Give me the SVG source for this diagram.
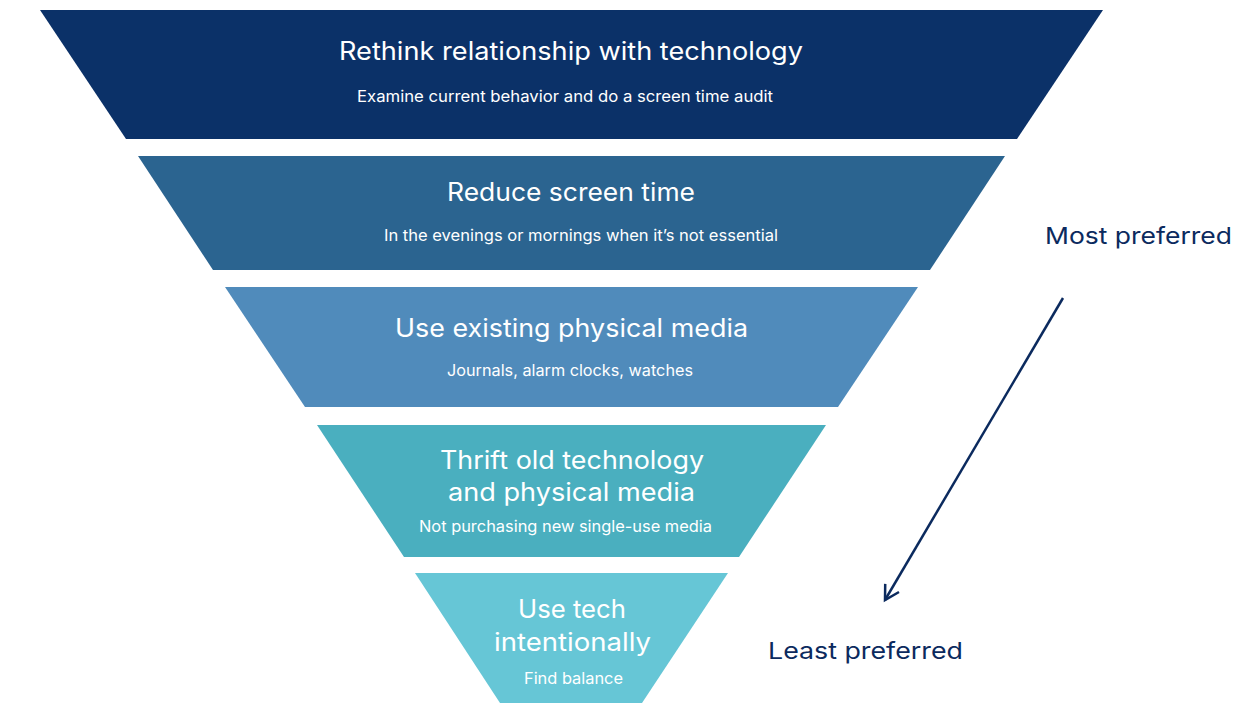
<svg xmlns="http://www.w3.org/2000/svg" width="1250" height="703" viewBox="0 0 1250 703">
<style>
.t{font-family:Inter,"Noto Sans","Liberation Sans",sans-serif;fill:#ffffff;font-size:25px}
.s{font-family:Inter,"Noto Sans","Liberation Sans",sans-serif;fill:#ffffff;font-size:16px}
.side{font-family:Inter,"Noto Sans","Liberation Sans",sans-serif;fill:#0b2a5e;font-size:23px}
</style>
<defs>
<marker id="chev" viewBox="0 0 20 20" refX="17" refY="10" markerWidth="20" markerHeight="20" markerUnits="userSpaceOnUse" orient="auto">
<path d="M3,2 L17,10 L3,18" fill="none" stroke="#0b2a5e" stroke-width="2.5"/>
</marker>
</defs>
<rect width="1250" height="703" fill="#ffffff"/>
<g id="level1">
<polygon points="40,10 1103,10 1017,139 126,139" fill="#0b3168"/>
<text class="t" x="339" y="59.5" textLength="464" lengthAdjust="spacingAndGlyphs">Rethink relationship with technology</text>
<text class="s" x="357" y="101.5" textLength="416" lengthAdjust="spacingAndGlyphs">Examine current behavior and do a screen time audit</text>
</g>
<g id="level2">
<polygon points="138,156 1005,156 930,270 213,270" fill="#2b6490"/>
<text class="t" x="447" y="201" textLength="248" lengthAdjust="spacingAndGlyphs">Reduce screen time</text>
<text class="s" x="384" y="240.5" textLength="394" lengthAdjust="spacingAndGlyphs">In the evenings or mornings when it’s not essential</text>
</g>
<g id="level3">
<polygon points="225,287 918,287 838,407 305,407" fill="#508bbb"/>
<text class="t" x="395" y="336.5" textLength="353" lengthAdjust="spacingAndGlyphs">Use existing physical media</text>
<text class="s" x="447" y="375.5" textLength="246" lengthAdjust="spacingAndGlyphs">Journals, alarm clocks, watches</text>
</g>
<g id="level4">
<polygon points="317,425 826,425 739,557 404,557" fill="#4aafbf"/>
<text class="t" x="440" y="469" textLength="264" lengthAdjust="spacingAndGlyphs">Thrift old technology</text>
<text class="t" x="448" y="500.5" textLength="247" lengthAdjust="spacingAndGlyphs">and physical media</text>
<text class="s" x="419" y="531.5" textLength="293" lengthAdjust="spacingAndGlyphs">Not purchasing new single-use media</text>
</g>
<g id="level5">
<polygon points="415,573 728,573 642,703 500,703" fill="#66c6d6"/>
<text class="t" x="518" y="618" textLength="108" lengthAdjust="spacingAndGlyphs">Use tech</text>
<text class="t" x="494" y="650.5" textLength="157" lengthAdjust="spacingAndGlyphs">intentionally</text>
<text class="s" x="524" y="684" textLength="99" lengthAdjust="spacingAndGlyphs">Find balance</text>
</g>
<g id="label-most">
<text class="side" x="1045" y="243.5" textLength="187" lengthAdjust="spacingAndGlyphs">Most preferred</text>
</g>
<g id="label-least">
<text class="side" x="768" y="658.5" textLength="195" lengthAdjust="spacingAndGlyphs">Least preferred</text>
</g>
<g id="connectors">
<line x1="1063" y1="298" x2="885" y2="600" stroke="#0b2a5e" stroke-width="2.5" marker-end="url(#chev)"/>
</g>
</svg>
